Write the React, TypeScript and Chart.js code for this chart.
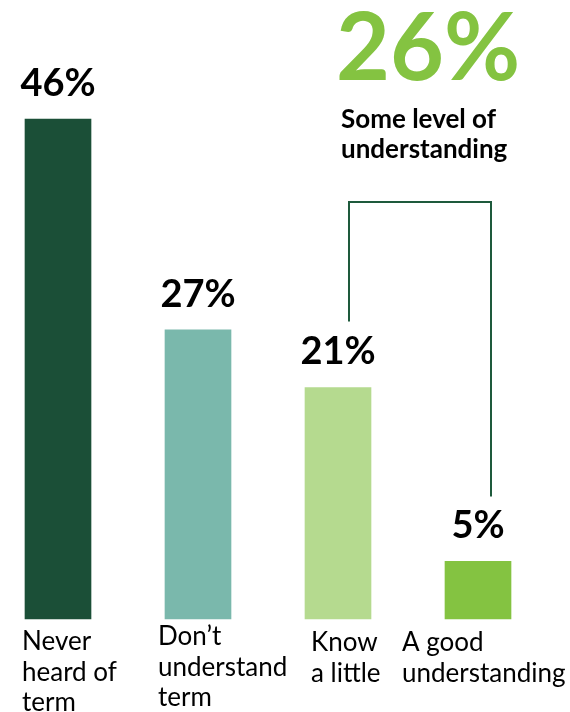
import React, { useEffect, useRef } from "react";
import { Chart, registerables } from "chart.js";

Chart.register(...registerables);

const categories: string[][] = [
  ["Never", "heard of", "term"],
  ["Don\u2019t", "understand", "term"],
  ["Know", "a little"],
  ["A good", "understanding"],
];
// bar heights (labels show rounded values)
const values: number[] = [46, 26.6, 21.3, 5.3];
const valueLabels: string[] = ["46%", "27%", "21%", "5%"];
const barColors: string[] = ["#1B4F37", "#7AB8AC", "#B5DA8F", "#84C341"];
const summaryValue: string = "26%";
const summaryTitle: string[] = ["Some level of", "understanding"];

// style / layout config
const FONT = "Lato, 'Open Sans', sans-serif";
const labelOffsetX = [-36, -40, -27, -76];
const labelFirstBaseline = [31, 26, 32, 32];
const LABEL_LINE_H = 30.5;

const annotationPlugin = {
  id: "annot",
  afterDatasetsDraw(chart: any) {
    const ctx = chart.ctx as CanvasRenderingContext2D;
    const meta = chart.getDatasetMeta(0);
    const yBase = chart.scales.y.getPixelForValue(0);
    ctx.save();
    // value labels
    ctx.fillStyle = "#000";
    ctx.textAlign = "center";
    ctx.textBaseline = "alphabetic";
    ctx.font = `bold 38px ${FONT}`;
    meta.data.forEach((bar: any, i: number) => {
      ctx.fillText(valueLabels[i], bar.x, bar.y - 23);
    });
    // category labels
    ctx.textAlign = "left";
    ctx.font = `26px ${FONT}`;
    meta.data.forEach((bar: any, i: number) => {
      categories[i].forEach((line, k) => {
        ctx.fillText(line, bar.x + labelOffsetX[i], yBase + labelFirstBaseline[i] + k * LABEL_LINE_H);
      });
    });
    // bracket
    const b3 = meta.data[2];
    const b4 = meta.data[3];
    const topY = 202;
    ctx.strokeStyle = "#1E5A3C";
    ctx.lineWidth = 2;
    ctx.beginPath();
    ctx.moveTo(b3.x + 11, b3.y - 66);
    ctx.lineTo(b3.x + 11, topY);
    ctx.lineTo(b4.x + 13, topY);
    ctx.lineTo(b4.x + 13, b4.y - 65);
    ctx.stroke();
    // summary
    ctx.fillStyle = "#84C341";
    ctx.font = `bold 93px ${FONT}`;
    ctx.fillText(summaryValue, 336, 80);
    ctx.fillStyle = "#000";
    ctx.font = `bold 26px ${FONT}`;
    ctx.fillText(summaryTitle[0], 341, 128);
    ctx.fillText(summaryTitle[1], 341, 158);
    ctx.restore();
  },
};

export default function App() {
  const ref = useRef<HTMLCanvasElement>(null);
  useEffect(() => {
    document.body.style.margin = "0";
    const chart = new Chart(ref.current!, {
      type: "bar",
      data: {
        labels: categories.map((c) => c.join(" ")),
        datasets: [
          {
            data: values,
            backgroundColor: barColors,
            barThickness: 66,
            clip: false as any,
          },
        ],
      },
      options: {
        responsive: false,
        animation: false,
        layout: { padding: { left: 58, right: 92, top: 75.5, bottom: 93 } },
        plugins: { legend: { display: false }, tooltip: { enabled: false } },
        scales: {
          x: { display: false, offset: false, grid: { offset: false } },
          y: { display: false, min: 0, max: 50 },
        },
      },
      plugins: [annotationPlugin],
    });
    return () => chart.destroy();
  }, []);
  return <canvas ref={ref} width={570} height={712} style={{ display: "block" }} />;
}
